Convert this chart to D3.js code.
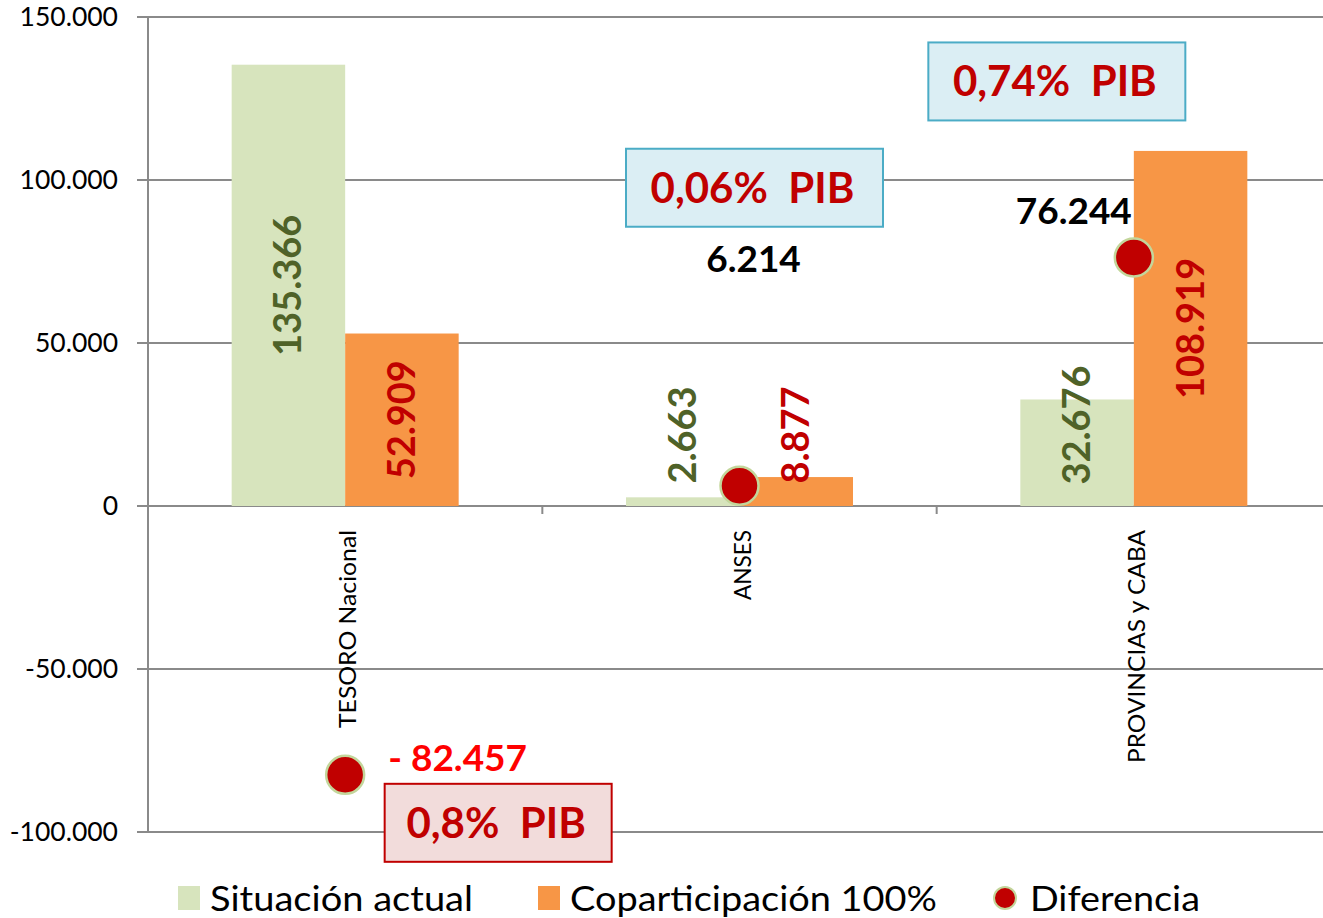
<!DOCTYPE html>
<html>
<head>
<meta charset="utf-8">
<script src="https://cdn.jsdelivr.net/npm/d3@7"></script>
<style>
body{margin:0;background:#fff;}
svg{display:block;font-family:Lato,"Liberation Sans",sans-serif;}
text{white-space:pre;}
</style>
</head>
<body>
<svg id="chart" width="1323" height="918"></svg>
<script>
// datos del grafico
var categorias = ["TESORO Nacional", "ANSES", "PROVINCIAS y CABA"];
var situacionActual = [135366, 2663, 32676];
var coparticipacion = [52909, 8877, 108919];
var diferencia = [-82457, 6214, 76244];
var pibTexto = ["0,8%  PIB", "0,06%  PIB", "0,74%  PIB"];
var yTicks = [-100000, -50000, 0, 50000, 100000, 150000];
var leyenda = ["Situación actual", "Coparticipación 100%", "Diferencia"];

var es = d3.formatLocale({decimal: ",", thousands: ".", grouping: [3], currency: ["$", ""], minus: "-"});
var fmt = es.format(",d");

var svg = d3.select("#chart");
var pLeft = 148, pRight = 1331, pTop = 17, pBottom = 832;

var x = d3.scaleBand().domain(categorias).range([pLeft, pRight]).paddingInner(0).paddingOuter(0);
var y = d3.scaleLinear().domain([-100000, 150000]).range([pBottom, pTop]);
var barW = 113.5;

// grid
svg.append("g").selectAll("line").data(yTicks).enter().append("line")
  .attr("x1", pLeft - 11).attr("x2", 1323)
  .attr("y1", function(d){ return y(d); }).attr("y2", function(d){ return y(d); })
  .attr("stroke", "#8a8a8a").attr("stroke-width", 2);

// eje y
var yAxis = d3.axisLeft(y).tickValues(yTicks).tickSize(0).tickPadding(0)
  .tickFormat(function(d){ return fmt(d); });
var gy = svg.append("g").attr("transform", "translate(" + (pLeft - 30) + ",0)").call(yAxis);
gy.select(".domain").remove();
gy.selectAll("text").attr("font-size", 26.5).attr("fill", "#000").attr("font-family", "Lato");

svg.append("line").attr("x1", pLeft).attr("x2", pLeft).attr("y1", pTop).attr("y2", pBottom)
  .attr("stroke", "#8a8a8a").attr("stroke-width", 2);

// ticks categorias
svg.append("g").selectAll("line").data(categorias.slice(1)).enter().append("line")
  .attr("x1", function(d){ return x(d); }).attr("x2", function(d){ return x(d); })
  .attr("y1", y(0)).attr("y2", y(0) + 8)
  .attr("stroke", "#8a8a8a").attr("stroke-width", 2);

// barras
var series = [
  {name: leyenda[0], values: situacionActual, color: "#d7e4bd", label: "#4f6228", off: -barW},
  {name: leyenda[1], values: coparticipacion, color: "#f79646", label: "#c00000", off: 0}
];
series.forEach(function(s){
  var g = svg.append("g");
  g.selectAll("rect").data(s.values).enter().append("rect")
    .attr("x", function(d, i){ return x(categorias[i]) + x.bandwidth() / 2 + s.off; })
    .attr("width", barW)
    .attr("y", function(d){ return y(Math.max(0, d)); })
    .attr("height", function(d){ return Math.abs(y(d) - y(0)); })
    .attr("fill", s.color);
});

// etiquetas de barras
series.forEach(function(s){
  svg.append("g").selectAll("text").data(s.values).enter().append("text")
    .attr("transform", function(d, i){
      var cx = x(categorias[i]) + x.bandwidth() / 2 + s.off + barW / 2 + 13;
      var len = fmt(d).length * 20;
      var mid = y(d / 2);
      var cy = Math.min(mid, y(0) - 21 - len / 2);
      return "translate(" + cx + "," + cy + ") rotate(-90)";
    })
    .attr("text-anchor", "middle")
    .attr("font-size", 38).attr("font-weight", "bold")
    .attr("fill", s.label)
    .text(function(d){ return fmt(d); });
});

// etiquetas categorias
var catLen = [198, 70, 233];
svg.append("g").selectAll("text").data(categorias).enter().append("text")
  .attr("transform", function(d){ return "translate(" + (x(d) + x.bandwidth() / 2 + 11) + "," + (y(0) + 24) + ") rotate(-90)"; })
  .attr("text-anchor", "end")
  .attr("font-size", 23).attr("fill", "#000")
  .attr("textLength", function(d, i){ return catLen[i]; }).attr("lengthAdjust", "spacingAndGlyphs")
  .text(function(d){ return d; });

// puntos diferencia
svg.append("g").selectAll("circle").data(diferencia).enter().append("circle")
  .attr("cx", function(d, i){ return x(categorias[i]) + x.bandwidth() / 2; })
  .attr("cy", function(d){ return y(d); })
  .attr("r", 19)
  .attr("fill", "#c00000").attr("stroke", "#c3d69b").attr("stroke-width", 2.5);

// etiquetas diferencia
var difLab = svg.append("g");
diferencia.forEach(function(d, i){
  var cx = x(categorias[i]) + x.bandwidth() / 2;
  var t = difLab.append("text").attr("font-size", 37).attr("font-weight", "bold");
  if (d < 0) {
    t.attr("x", cx + 43).attr("y", y(d) - 4).attr("fill", "#ff0000").attr("text-anchor", "start")
      .text("- " + fmt(-d));
  } else if (i === 1) {
    t.attr("x", cx + 14).attr("y", y(d) - 214).attr("fill", "#000").attr("text-anchor", "middle")
      .text(fmt(d));
  } else {
    t.attr("x", cx - 2).attr("y", y(d) - 33).attr("fill", "#000").attr("text-anchor", "end")
      .text(fmt(d));
  }
});

// cuadros PIB
var cajas = [
  {t: pibTexto[0], cx: x(categorias[0]) + x.bandwidth() / 2 + 153, yv: diferencia[0], dy: 9, w: 227, fill: "#f2dcdb", stroke: "#c00000"},
  {t: pibTexto[1], cx: x(categorias[1]) + x.bandwidth() / 2 + 15, yv: diferencia[1], dy: -337, w: 257, fill: "#dbeef4", stroke: "#4bacc6"},
  {t: pibTexto[2], cx: x(categorias[2]) + x.bandwidth() / 2 - 77, yv: diferencia[2], dy: -215, w: 257, fill: "#dbeef4", stroke: "#4bacc6"}
];
cajas.forEach(function(c){
  var yTop = y(c.yv) + c.dy;
  svg.append("rect").attr("x", c.cx - c.w / 2).attr("y", yTop).attr("width", c.w).attr("height", 78)
    .attr("fill", c.fill).attr("stroke", c.stroke).attr("stroke-width", 2);
  svg.append("text").attr("x", c.cx - 2).attr("y", yTop + 54)
    .attr("text-anchor", "middle").attr("font-size", 42).attr("font-weight", "bold")
    .attr("fill", "#c00000").text(c.t);
});

// leyenda
var ly = 898;
var lg = svg.append("g");
lg.append("rect").attr("x", 178).attr("y", ly - 12).attr("width", 22).attr("height", 24).attr("fill", series[0].color);
lg.append("text").attr("x", 210).attr("y", ly + 13).attr("font-size", 35).attr("fill", "#000")
  .attr("textLength", 263).attr("lengthAdjust", "spacingAndGlyphs").text(leyenda[0]);
lg.append("rect").attr("x", 538).attr("y", ly - 12).attr("width", 22).attr("height", 24).attr("fill", series[1].color);
lg.append("text").attr("x", 570).attr("y", ly + 13).attr("font-size", 35).attr("fill", "#000")
  .attr("textLength", 367).attr("lengthAdjust", "spacingAndGlyphs").text(leyenda[1]);
lg.append("circle").attr("cx", 1005).attr("cy", ly).attr("r", 11)
  .attr("fill", "#c00000").attr("stroke", "#c3d69b").attr("stroke-width", 2);
lg.append("text").attr("x", 1030).attr("y", ly + 13).attr("font-size", 35).attr("fill", "#000")
  .attr("textLength", 170).attr("lengthAdjust", "spacingAndGlyphs").text(leyenda[2]);
</script>
</body>
</html>
